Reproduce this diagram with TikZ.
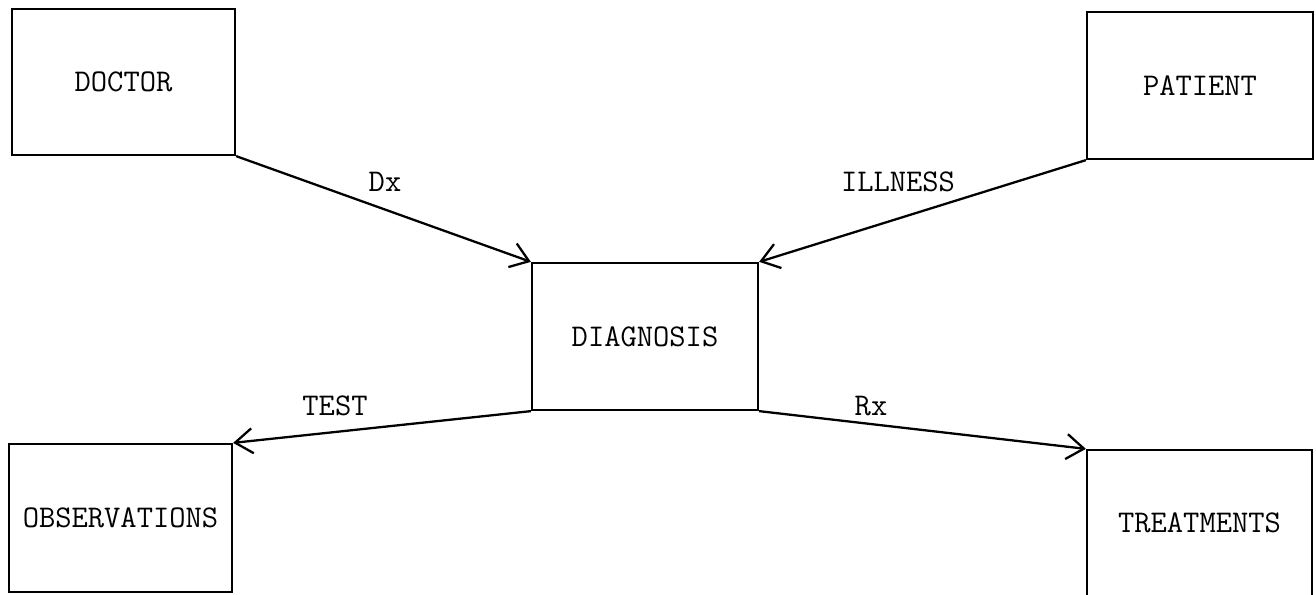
\documentclass[tikz,border=0pt]{standalone}
\usepackage{tikz}
\usetikzlibrary{arrows.meta, positioning}
\tikzset{
  every picture/.style={font=\ttfamily\fontsize{18}{21}\selectfont},
  box/.style={draw, line width=1.3pt, minimum width=4.5cm, minimum height=2.94cm, inner sep=0pt},
  flow/.style={-{Straight Barb[length=3.5mm, width=5mm, line width=1.3pt]}, line width=1.3pt},
  tag/.style={inner sep=0pt},
}
\begin{document}
\begin{tikzpicture}[x=0.02cm, y=-0.02cm]
  \useasboundingbox (0,0) rectangle (1316,595);
  % boxes
  \node[box, minimum width=4.46cm, minimum height=2.92cm] (doctor) at (123.5,82) {DOCTOR};
  \node[box, minimum width=4.52cm] (patient) at (1200,85.5) {PATIENT};
  \node[box, minimum width=4.52cm] (diag) at (645,336.5) {DIAGNOSIS};
  \node[box, minimum width=4.46cm, minimum height=2.96cm] (obs) at (120.5,518) {OBSERVATIONS};
  \node[box, minimum height=2.92cm] (treat) at (1199.5,523) {TREATMENTS};
  % connectors
  \draw[flow] (doctor.south east) -- (diag.north west);
  \draw[flow] (patient.south west) -- (diag.north east);
  \draw[flow] (diag.south west) -- (obs.north east);
  \draw[flow] (diag.south east) -- (treat.north west);
  % labels
  \node[tag] (dx) at (385,182) {Dx};
  \node[tag] (illness) at (898,182) {ILLNESS};
  \node[tag] (test) at (335,406) {TEST};
  \node[tag] (rx) at (871,406) {Rx};
\end{tikzpicture}
\end{document}
